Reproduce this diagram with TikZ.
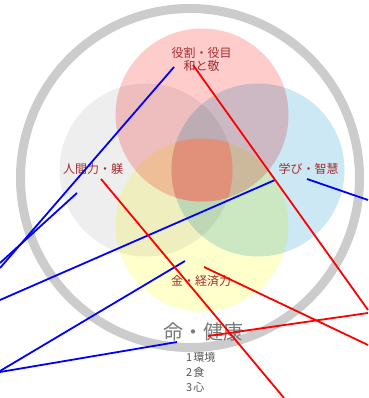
\documentclass[tikz,border=0pt]{standalone}
\usepackage{fontspec}
\setmainfont{Noto Sans CJK JP}
\definecolor{ringgrey}{RGB}{204,204,204}
\definecolor{cpink}{RGB}{255,204,204}
\definecolor{cgrey}{RGB}{238,238,238}
\definecolor{cblue}{RGB}{204,232,244}
\definecolor{cyellow}{RGB}{255,255,204}
\definecolor{ccenter}{RGB}{225,145,122}
\definecolor{labred}{RGB}{165,45,45}
\definecolor{lifegrey}{RGB}{120,120,120}
\definecolor{listgrey}{RGB}{85,85,85}
\begin{document}
\begin{tikzpicture}[x=1pt,y=-1pt,
  ring/.style={draw=ringgrey,line width=9pt},
  lab/.style={text=labred,font=\fontsize{12}{13}\selectfont,inner sep=0pt,align=center},
  life/.style={text=lifegrey,font=\fontsize{20}{22}\selectfont,inner sep=0pt},
  item/.style={text=listgrey,font=\fontsize{11}{12}\selectfont,inner sep=0pt,anchor=west},
  bl/.style={draw={rgb,255:red,0;green,0;blue,255},line width=1.8pt},
  rl/.style={draw={rgb,255:red,255;green,0;blue,0},line width=1.8pt}]
\useasboundingbox (0,0) rectangle (368,398);
\fill[white] (0,0) rectangle (368,398);
% outer ring
\draw[ring] (190,178) circle[radius=169.5pt];
% four circles
\begin{scope}[blend group=multiply]
  \fill[cgrey] (146,170) circle[radius=86.5pt];
  \fill[cpink] (202,115) circle[radius=86.5pt];
  \fill[cblue] (258,170) circle[radius=86.5pt];
  \fill[cyellow] (202,225) circle[radius=86.5pt];
\end{scope}
% central overlap
\begin{scope}
  \clip (202,115) circle[radius=86.5pt];
  \clip (146,170) circle[radius=86.5pt];
  \clip (258,170) circle[radius=86.5pt];
  \fill[ccenter] (202,225) circle[radius=86.5pt];
\end{scope}
% labels
\node[lab] (yaku) at (201.5,59) {役割・役目\\和と敬};
\node[lab] (ningen) at (93,169) {人間力・躾};
\node[lab] (manabi) at (308.5,169) {学び・智慧};
\node[lab] (kane) at (201,281) {金・経済力};
\node[life] (inochi) at (203.5,332) {命・健康};
\node[item] (i1) at (186,357) {1\kern1pt 環境};
\node[item] (i2) at (186,372) {2\kern1pt 食};
\node[item] (i3) at (186,387) {3\kern1pt 心};
% endpoints
\coordinate (b1s) at (174,67);  \coordinate (b1e) at (0,268);
\coordinate (b2s) at (77,193);  \coordinate (b2e) at (0,263);
\coordinate (b3s) at (275,180); \coordinate (b3e) at (0,300);
\coordinate (b4s) at (307,179); \coordinate (b4e) at (368,200);
\coordinate (b5s) at (185,261); \coordinate (b5e) at (0,371);
\coordinate (b6s) at (177,342); \coordinate (b6e) at (0,372);
\coordinate (r1s) at (193,65);  \coordinate (r1e) at (368,310);
\coordinate (r2s) at (101,179); \coordinate (r2e) at (284,398);
\coordinate (r3s) at (204,267); \coordinate (r3e) at (368,345);
\coordinate (r4s) at (208,336); \coordinate (r4e) at (368,313);
% lines
\draw[bl] (b1s) -- (b1e);
\draw[bl] (b2s) -- (b2e);
\draw[bl] (b3s) -- (b3e);
\draw[bl] (b4s) -- (b4e);
\draw[bl] (b5s) -- (b5e);
\draw[bl] (b6s) -- (b6e);
\draw[rl] (r1s) -- (r1e);
\draw[rl] (r2s) -- (r2e);
\draw[rl] (r3s) -- (r3e);
\draw[rl] (r4s) -- (r4e);
\end{tikzpicture}
\end{document}
